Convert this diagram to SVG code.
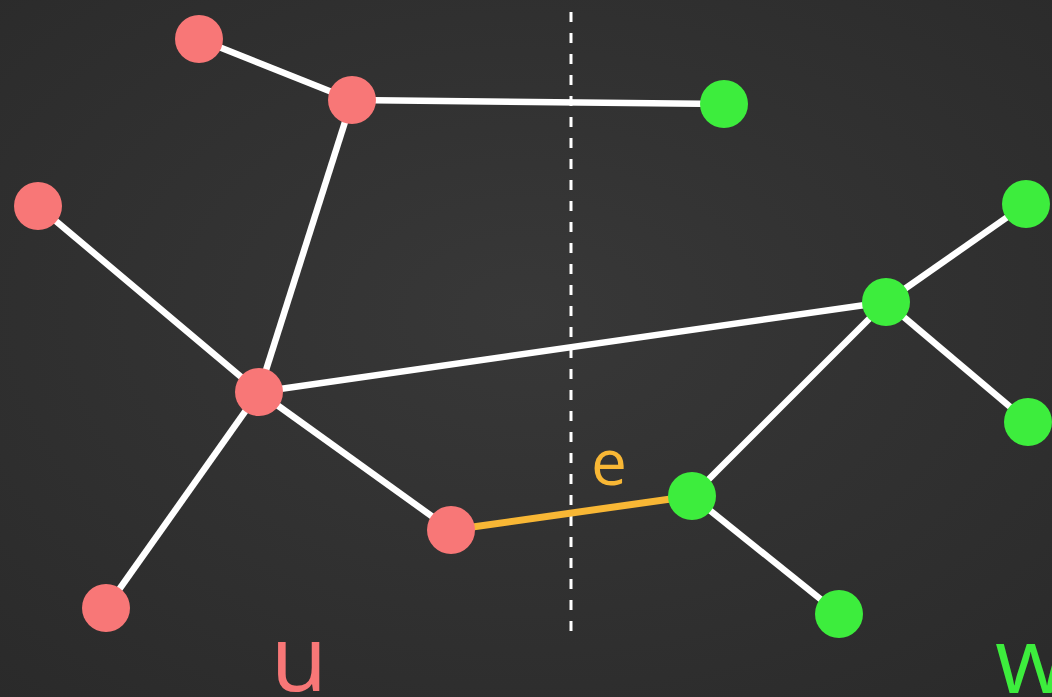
<svg xmlns="http://www.w3.org/2000/svg" width="1052" height="697" viewBox="0 0 1052 697">
<defs>
<radialGradient id="bg" cx="0.5" cy="0.45" r="0.75">
<stop offset="0" stop-color="#383838"/>
<stop offset="1" stop-color="#2a2a2a"/>
</radialGradient>
<style>
.e{stroke:#ffffff;stroke-width:6.5;fill:none}
.u{fill:#f87777}
.w{fill:#3ded3d}
.lbl{font-family:"Open Sans","Noto Sans",sans-serif}
</style>
</defs>
<rect width="1052" height="697" fill="url(#bg)"/>
<line x1="571" y1="12" x2="571" y2="642" stroke="#ffffff" stroke-width="3" stroke-dasharray="10 11"/>
<g id="connectors">
<line class="e" x1="199" y1="39" x2="352" y2="100"/>
<line class="e" x1="352" y1="100" x2="724" y2="104"/>
<line class="e" x1="352" y1="100" x2="259" y2="392"/>
<line class="e" x1="38" y1="206" x2="259" y2="392"/>
<line class="e" x1="259" y1="392" x2="886" y2="302"/>
<line class="e" x1="259" y1="392" x2="451" y2="530"/>
<line class="e" x1="259" y1="392" x2="106" y2="608"/>
<line class="e" x1="692" y1="496" x2="886" y2="302"/>
<line class="e" x1="886" y1="302" x2="1026" y2="204"/>
<line class="e" x1="886" y1="302" x2="1028" y2="422"/>
<line class="e" x1="692" y1="496" x2="839" y2="614"/>
<line x1="451" y1="530" x2="692" y2="496" stroke="#f8b735" stroke-width="7"/>
</g>
<g id="n1"><circle class="u" cx="199" cy="39" r="24"/></g>
<g id="n2"><circle class="u" cx="352" cy="100" r="24"/></g>
<g id="n3"><circle class="w" cx="724" cy="104" r="24"/></g>
<g id="n4"><circle class="u" cx="38" cy="206" r="24"/></g>
<g id="n5"><circle class="w" cx="1026" cy="204" r="24"/></g>
<g id="n6"><circle class="w" cx="886" cy="302" r="24"/></g>
<g id="n7"><circle class="u" cx="259" cy="392" r="24"/></g>
<g id="n8"><circle class="w" cx="1028" cy="422" r="24"/></g>
<g id="n9"><circle class="u" cx="451" cy="530" r="24"/></g>
<g id="n10"><circle class="w" cx="692" cy="496" r="24"/></g>
<g id="n11"><circle class="u" cx="106" cy="608" r="24"/></g>
<g id="n12"><circle class="w" cx="839" cy="614" r="24"/></g>
<text class="lbl" x="609" y="485" font-size="64" fill="#f8b735" text-anchor="middle">e</text>
<text class="lbl" x="299" y="691" font-size="92" fill="#f87777" text-anchor="middle">u</text>
<text class="lbl" x="995" y="693" font-size="92" fill="#3ded3d">w</text>
</svg>
